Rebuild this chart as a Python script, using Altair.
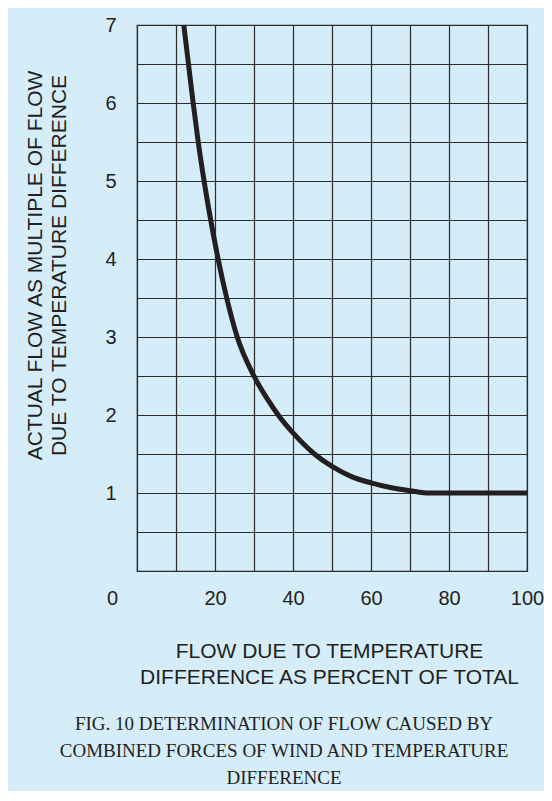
import altair as alt
import pandas as pd

# Curve
flow_pct = [12.0, 13.2, 14.4, 15.7, 17.2, 18.9, 20.8, 23.0, 25.7, 30.0, 33.5, 36.2,
            40.0, 45.5, 50.0, 55.0, 60.0, 65.0, 70.0, 75.0, 80.0, 90.0, 100.0]
multiple = [7.0, 6.5, 6.0, 5.5, 5.0, 4.5, 4.0, 3.5, 3.0, 2.5, 2.2, 2.0,
            1.77, 1.5, 1.34, 1.21, 1.13, 1.07, 1.03, 1.0, 1.0, 1.0, 1.0]

x_ticks = list(range(0, 101, 10))
y_ticks = [i * 0.5 for i in range(0, 15)]

x_title = ["FLOW DUE TO TEMPERATURE", "DIFFERENCE AS PERCENT OF TOTAL"]
y_title = ["ACTUAL FLOW AS MULTIPLE OF FLOW", "DUE TO TEMPERATURE DIFFERENCE"]
caption = ["FIG. 10 DETERMINATION OF FLOW CAUSED BY",
           "COMBINED FORCES OF WIND AND TEMPERATURE",
           "DIFFERENCE"]

df = pd.DataFrame({"x": flow_pct, "y": multiple})

INK = "#231f20"
GRID = "#2b2b2b"
FONT = "Liberation Sans"

x_axis = alt.Axis(
    values=x_ticks,
    labelExpr="datum.value % 20 == 0 ? '' + datum.value : ''",
    labelOffset={"condition": {"test": "datum.value == 0", "value": -25}, "value": 0},
    labelFlush=False,
    labelOverlap=False,
    labelBound=False,
    labelFont=FONT,
    labelFontSize=20,
    labelColor=INK,
    labelPadding=17,
    ticks=False,
    domain=False,
    grid=True,
    gridColor=GRID,
    gridWidth=1.2,
    gridOpacity=1,
    title=x_title,
    titleFont=FONT,
    titleFontSize=21,
    titleFontWeight="normal",
    titleColor=INK,
    titleLineHeight=26,
    titleAngle=0,
    titleAlign="center",
    titleBaseline="top",
    titleX=192,
    titleY=69,
)

y_axis = alt.Axis(
    values=y_ticks,
    labelExpr="datum.value >= 1 && datum.value % 1 == 0 ? '' + datum.value : ''",
    labelOverlap=False,
    labelBound=False,
    labelFlush=False,
    labelFont=FONT,
    labelFontSize=20,
    labelColor=INK,
    labelPadding=21,
    ticks=False,
    domain=False,
    grid=True,
    gridColor=GRID,
    gridWidth=1.2,
    gridOpacity=1,
    title=y_title,
    titleFont=FONT,
    titleFontSize=21,
    titleFontWeight="normal",
    titleColor=INK,
    titleLineHeight=24,
    titleAngle=270,
    titleAlign="center",
    titleBaseline="middle",
    titleX=-102,
    titleY=240,
)

chart = (
    alt.Chart(df)
    .mark_line(color=INK, strokeWidth=5, interpolate="monotone", clip=True, strokeCap="butt")
    .encode(
        x=alt.X("x:Q", scale=alt.Scale(domain=[0, 100], nice=False), axis=x_axis),
        y=alt.Y("y:Q", scale=alt.Scale(domain=[0, 7], nice=False), axis=y_axis),
    )
    .properties(
        width=390,
        height=546,
        background="#d5ecf9",
        autosize=alt.AutoSizeParams(type="none"),
        padding={"left": 129, "top": 17, "right": 17, "bottom": 220},
        title=alt.TitleParams(
            text=caption,
            orient="bottom",
            anchor="middle",
            font="Liberation Serif",
            fontSize=19,
            fontWeight="normal",
            color=INK,
            lineHeight=27,
            offset=28,
            dx=-48,
        ),
    )
    .configure_view(stroke=GRID, strokeWidth=1.2)
)

chart.save("out.html", embed_options={"renderer": "svg", "actions": False})
